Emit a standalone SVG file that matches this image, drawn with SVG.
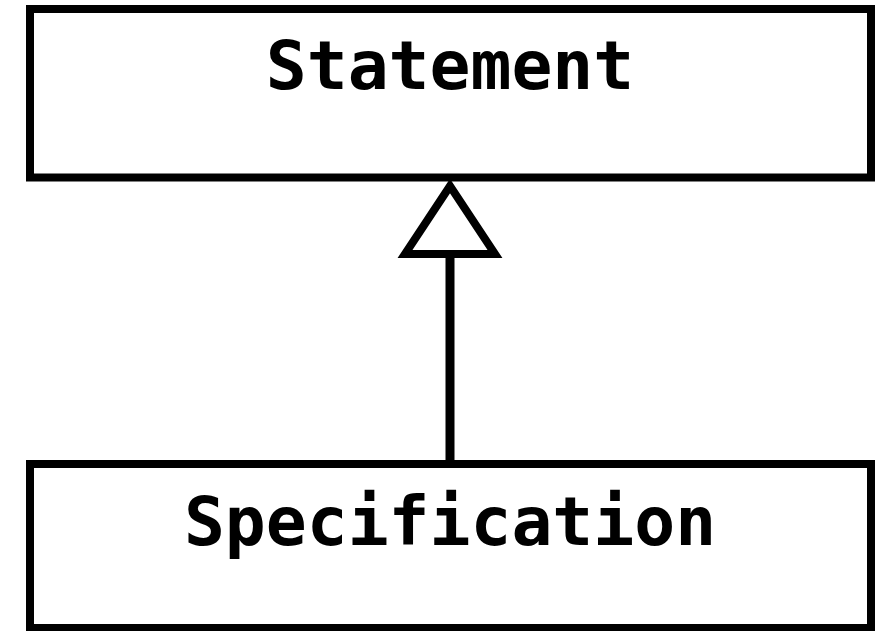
<svg xmlns="http://www.w3.org/2000/svg" width="884" height="631" viewBox="0 0 884 631">
<style>
.box{fill:#fff;stroke:#000;stroke-width:8}
.lbl{font-family:"DejaVu Sans Mono","Liberation Mono",monospace;font-weight:bold;font-size:68px;fill:#000;text-anchor:middle}
.edge{stroke:#000;stroke-width:9;fill:none}
.head{fill:#fff;stroke:#000;stroke-width:8;stroke-linejoin:miter}
</style>
<rect width="884" height="631" fill="#fff"/>
<g id="statement">
<rect class="box" x="30" y="9" width="841" height="168.5"/>
<text class="lbl" x="450" y="89">Statement</text>
</g>
<g id="specification">
<rect class="box" x="30" y="464" width="841" height="164"/>
<text class="lbl" x="450" y="545">Specification</text>
</g>
<g id="connectors">
<line class="edge" x1="450" y1="460" x2="450" y2="254"/>
<polygon class="head" points="450,186 405,254 495,254"/>
</g>
</svg>
